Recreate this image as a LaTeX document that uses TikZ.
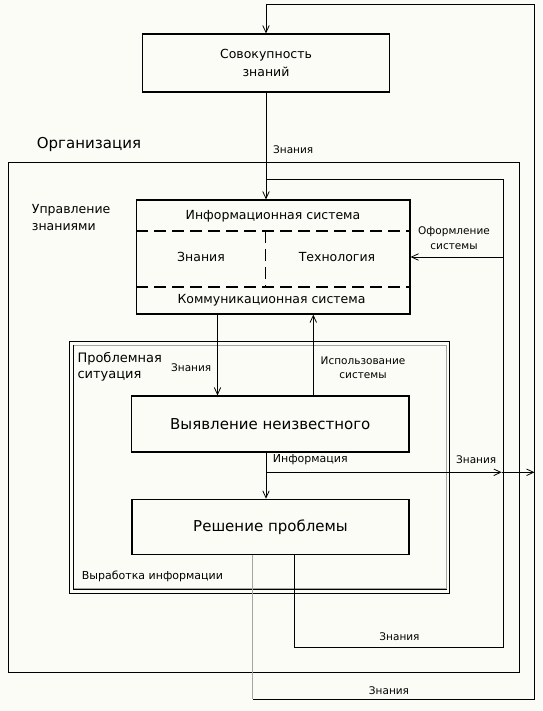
\documentclass[tikz,border=0pt]{standalone}
\usepackage{fontspec}
\setmainfont{DejaVu Sans}
\usetikzlibrary{positioning,arrows.meta}
\definecolor{paper}{RGB}{252,252,246}
\definecolor{lightline}{RGB}{165,165,165}

\begin{document}
\begin{tikzpicture}[x=1pt, y=-1pt,
	box/.style={draw, line width=1.2pt, inner sep=0pt, align=center},
	wire/.style={draw, line width=0.8pt},
	arr/.style={-{Straight Barb[length=7pt,width=6.5pt]}},
	lbl/.style={inner sep=0pt, font=\fontsize{10.5}{12}\selectfont},
	midtext/.style={inner sep=0pt, font=\fontsize{12.5}{16.5}\selectfont},
	bigtext/.style={inner sep=0pt, font=\fontsize{15}{18}\selectfont}]
	\fill[paper] (0,0) rectangle (542,711);
	\useasboundingbox (0,0) rectangle (542,711);

	% Frames:
	\node[draw, line width=0.8pt, minimum width=511pt, minimum height=510pt, anchor=north west] (org) at (8.3,162.3) {};
	\node[draw, line width=0.8pt, minimum width=380.3pt, minimum height=252.6pt, anchor=north west] (problem) at (69,340.7) {};
	\node[draw=lightline, line width=0.7pt, minimum width=373pt, minimum height=243.3pt, anchor=north west] (problemin) at (73,345) {};
	\draw[line width=0.8pt] (problemin.north west) -- (problemin.south west) -- (problemin.south east);

	% Blocks:
	\node[box, minimum width=246.5pt, minimum height=58pt, midtext, font=\fontsize{12.5}{17.7}\selectfont] (sovok) at (266,63) {Совокупность\\знаний};
	\node[box, minimum width=273.3pt, minimum height=114pt] (infosys) at (273.3,257) {};
	\node[box, minimum width=277.3pt, minimum height=56pt, bigtext] (vyyavl) at (270.3,424) {Выявление неизвестного};
	\node[box, minimum width=277pt, minimum height=55pt, bigtext] (reshen) at (270.5,526.8) {Решение проблемы};

	% Inside the information system:
	\draw[line width=1.1pt, dash pattern=on 12pt off 6pt] (infosys.west |- 0,231) -- (infosys.east |- 0,231);
	\draw[line width=1.1pt, dash pattern=on 12pt off 6pt] (infosys.west |- 0,287) -- (infosys.east |- 0,287);
	\draw[line width=1.1pt, dash pattern=on 12pt off 6pt] (265.7,231) -- (265.7,287);
	\node[midtext] (isys) at (273,216) {Информационная система};
	\node[midtext] (know) at (201,257.3) {Знания};
	\node[midtext] (tech) at (337,257.3) {Технология};
	\node[midtext] (comm) at (271.5,300.7) {Коммуникационная система};

	% Points:
	\coordinate (outerBL) at (252.7,699);
	\coordinate (outerBR) at (534.5,699);
	\coordinate (outerTR) at (534.5,4);
	\coordinate (innerBL) at (294,647.7);
	\coordinate (innerBR) at (503,647.7);
	\coordinate (innerTR) at (503,179);
	\coordinate (kIn) at ([xshift=-55.8pt]infosys.south);
	\coordinate (kUse) at ([xshift=40pt]infosys.south);
	\coordinate (kInf) at ([xshift=-4.3pt]vyyavl.south);
	\coordinate (branch) at (266,472.3);
	\coordinate (tipA) at (501.7,472.3);
	\coordinate (tipB) at (534.5,472.3);

	% Lines:
	\draw[wire, draw=lightline] (reshen.south -| outerBL) -- (outerBL);
	\draw[wire, arr] (outerBL) -- (outerBR) -- (outerTR) -- (sovok.north |- outerTR) -- (sovok.north);
	\draw[wire] (reshen.south -| innerBL) -- (innerBL) -- (innerBR) -- (innerTR) -- (sovok.south |- innerTR);
	\draw[wire, arr] (sovok.south) -- (sovok.south |- infosys.north);
	\draw[wire, arr] (infosys.east -| innerTR) -- (infosys.east);
	\draw[wire, arr] (kIn) -- (kIn |- vyyavl.north);
	\draw[wire, arr] (kUse |- vyyavl.north) -- (kUse);
	\draw[wire, arr] (kInf) -- (kInf |- reshen.north);
	\draw[wire, arr] (branch) -- (tipA);
	\draw[wire, arr] (tipA) -- (tipB);

	% Labels
	\node[bigtext, anchor=west] (orglbl) at (36.7,144) {Организация};
	\node[midtext, anchor=west, align=left] (kmlbl) at (31.7,217.5) {Управление\\знаниями};
	\node[midtext, anchor=west, align=left, font=\fontsize{13}{16.7}\selectfont] (problbl) at (77.3,366.7) {Проблемная\\ситуация};
	\node[lbl, anchor=west] (k1) at (273,150) {Знания};
	\node[lbl, align=center, font=\fontsize{10.5}{14.7}\selectfont] (formlbl) at (454,238.5) {Оформление\\системы};
	\node[lbl, align=center, font=\fontsize{10.5}{14}\selectfont] (uselbl) at (363,368) {Использование\\системы};
	\node[lbl, anchor=west] (k2) at (171,367.3) {Знания};
	\node[lbl, anchor=west, font=\fontsize{11}{13}\selectfont] (infolbl) at (272.7,459.3) {Информация};
	\node[lbl, anchor=west] (k3) at (456,459.3) {Знания};
	\node[lbl, anchor=west, font=\fontsize{11}{13}\selectfont] (devlbl) at (81.7,576.7) {Выработка информации};
	\node[lbl] (k4) at (399.5,636.7) {Знания};
	\node[lbl] (k5) at (389,690.7) {Знания};
\end{tikzpicture}
\end{document}
